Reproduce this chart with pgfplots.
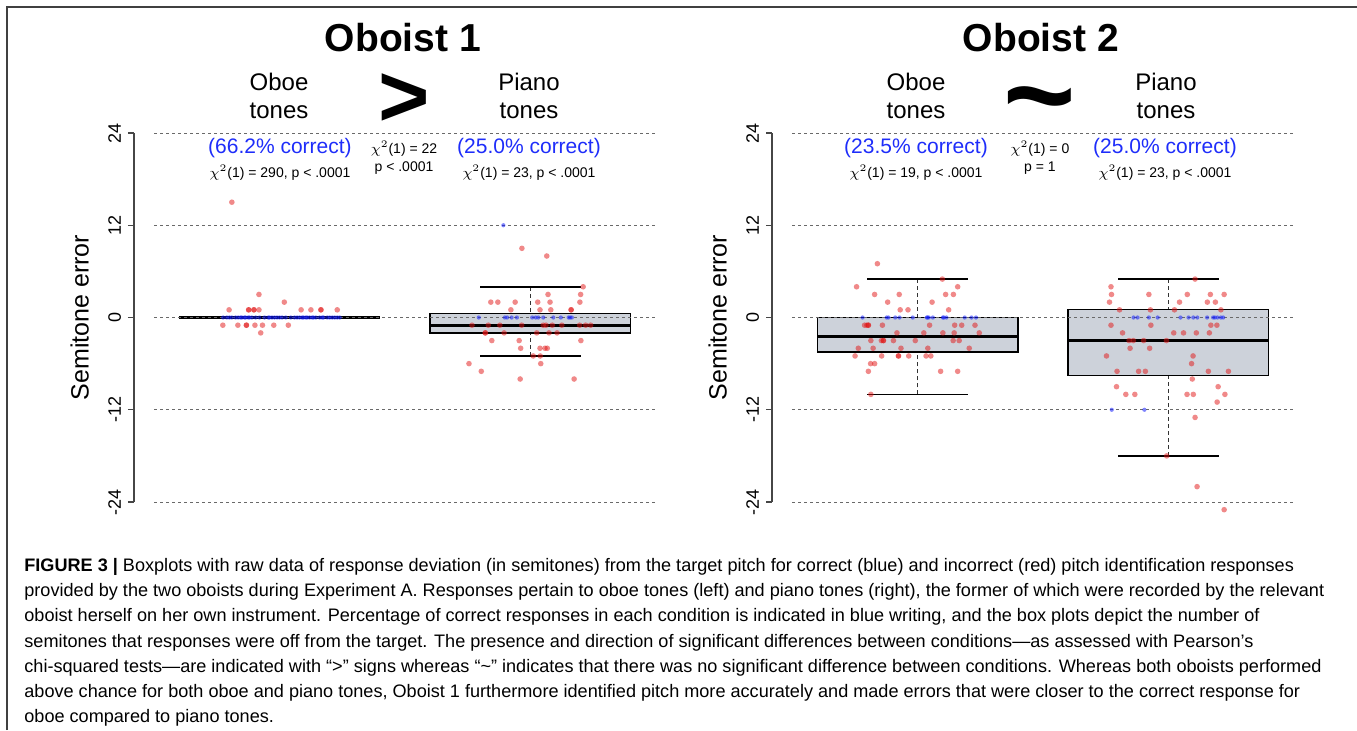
\documentclass[border=0pt]{standalone}
\usepackage{fontspec}
\setmainfont{Liberation Sans}
\usepackage{pgfplots}
\usepackage{pgfplotstable}
\pgfplotsset{compat=1.18}
\usepgfplotslibrary{statistics}

\definecolor{boxfill}{RGB}{205,210,218}
\definecolor{ptred}{RGB}{225,20,20}
\definecolor{ptblue}{RGB}{20,30,250}
\definecolor{txtblue}{RGB}{30,45,250}
\definecolor{gridgray}{RGB}{105,105,105}
\definecolor{axisgray}{RGB}{70,70,70}

\newcommand\fsz[2]{\fontsize{#1}{#2}\selectfont}

% ---- data: x = jittered position (1 = oboe tones, 2 = piano tones), y = semitone error
\pgfplotstableread{
x y
0.810 15
0.918 3
1.019 2
0.799 1
0.877 1
0.877 1
0.898 1
0.898 1
0.918 1
1.086 1
1.125 1
1.165 1
1.165 1
1.230 1
0.774 -1
0.834 -1
0.868 -1
0.868 -1
0.902 -1
0.932 -1
0.977 -1
1.035 -1
0.925 -2
1.966 9
2.065 8
2.210 4
2.070 3
2.200 3
1.842 2
1.870 2
1.939 2
2.029 2
2.078 2
2.197 2
1.922 1
2.038 1
2.081 1
2.162 1
2.162 1
1.767 -1
1.832 -1
1.878 -1
1.965 -1
2.051 -1
2.062 -1
2.087 -1
2.125 -1
2.196 -1
2.220 -1
2.240 -1
1.820 -2
1.820 -2
1.895 -2
2.025 -2
2.074 -2
2.106 -2
1.846 -3
1.955 -3
2.201 -3
1.961 -4
2.038 -4
2.058 -4
2.067 -4
2.011 -5
2.039 -5
1.755 -6
2.041 -6
1.804 -7
1.959 -8
2.174 -8
}\pOneRed

\pgfplotstableread{
x y
0.775 0
0.790 0
0.800 0
0.810 0
0.825 0
0.835 0
0.845 0
0.850 0
0.860 0
0.865 0
0.875 0
0.880 0
0.890 0
0.905 0
0.920 0
0.940 0
0.955 0
0.960 0
0.970 0
0.980 0
0.990 0
1.000 0
1.010 0
1.025 0
1.045 0
1.060 0
1.070 0
1.080 0
1.090 0
1.095 0
1.105 0
1.110 0
1.120 0
1.130 0
1.135 0
1.145 0
1.160 0
1.170 0
1.175 0
1.190 0
1.200 0
1.210 0
1.220 0
1.230 0
1.240 0
1.892 12
1.794 0
1.898 0
1.907 0
1.925 0
1.946 0
2.007 0
2.021 0
2.031 0
2.051 0
2.091 0
2.121 0
2.152 0
2.158 0
2.165 0
}\pOneBlue

\pgfplotstableread{
x y
0.840 7
1.099 5
0.757 4
1.160 4
0.829 3
0.927 3
1.112 3
1.143 3
0.881 2
1.058 2
0.931 1
0.962 1
1.124 1
0.789 -1
0.798 -1
0.804 -1
0.804 -1
0.860 -1
1.048 -1
1.148 -1
1.176 -1
1.229 -1
0.918 -2
1.025 -2
1.101 -2
1.146 -2
1.246 -2
0.814 -3
0.856 -3
0.864 -3
0.864 -3
0.904 -3
0.991 -3
1.142 -3
1.166 -3
0.764 -4
0.823 -4
0.934 -4
1.041 -4
1.206 -4
0.751 -5
0.857 -5
0.924 -5
0.924 -5
0.965 -5
1.034 -5
1.053 -5
0.813 -6
0.829 -6
0.804 -7
1.092 -7
1.160 -7
0.814 -10
2.106 5
1.771 4
1.773 3
1.922 3
2.075 3
2.167 3
2.222 3
1.765 2
2.044 2
2.155 2
2.187 2
1.805 1
1.928 1
2.024 1
2.209 1
1.771 -1
1.930 -1
2.169 -1
2.193 -1
1.817 -2
2.021 -2
2.060 -2
2.111 -2
2.163 -2
1.843 -3
1.860 -3
1.901 -3
1.992 -3
1.847 -4
1.925 -4
1.753 -5
2.098 -5
2.092 -6
1.795 -7
1.881 -7
1.908 -7
2.159 -7
2.239 -7
2.095 -8
1.793 -9
2.198 -9
1.830 -10
1.866 -10
2.074 -10
2.099 -10
2.225 -10
2.194 -11
2.106 -13
1.993 -18
2.114 -22
2.222 -25
}\pTwoRed

\pgfplotstableread{
x y
0.781 0
0.877 0
0.884 0
0.911 0
0.928 0
0.981 0
1.037 0
1.040 0
1.045 0
1.061 0
1.101 0
1.105 0
1.115 0
1.188 0
1.215 0
1.233 0
1.861 0
1.877 0
1.922 0
1.957 0
2.048 0
2.080 0
2.099 0
2.115 0
2.154 0
2.178 0
2.185 0
2.195 0
2.209 0
2.218 0
1.774 -12
1.904 -12
}\pTwoBlue

\tikzset{
  whstem/.style={draw=black!80, line width=0.75pt, dash pattern=on 2pt off 1.5pt},
  whcap/.style={draw=black, line width=0.75pt},
}

\pgfplotsset{
  boxplot/draw/lower whisker/.code={%
    \draw[whstem] (boxplot box cs:\pgfplotsboxplotvalue{lower whisker},0.5)
      -- (boxplot box cs:\pgfplotsboxplotvalue{lower quartile},0.5);
    \draw[whcap] (boxplot whisker cs:\pgfplotsboxplotvalue{lower whisker},0)
      -- (boxplot whisker cs:\pgfplotsboxplotvalue{lower whisker},1);
  },
  boxplot/draw/upper whisker/.code={%
    \draw[whstem] (boxplot box cs:\pgfplotsboxplotvalue{upper whisker},0.5)
      -- (boxplot box cs:\pgfplotsboxplotvalue{upper quartile},0.5);
    \draw[whcap] (boxplot whisker cs:\pgfplotsboxplotvalue{upper whisker},0)
      -- (boxplot whisker cs:\pgfplotsboxplotvalue{upper whisker},1);
  },
  panel/.style={
    anchor=south west, scale only axis,
    width=271pt, height=184.5pt,
    xmin=0.42, xmax=2.58, ymin=-24, ymax=24,
    clip=false,
    axis x line=none, axis y line*=left,
    y axis line style={-, draw=axisgray, line width=0.55pt},
    ytick={-24,-12,0,12,24}, yticklabels={-24,-12,0,12,24},
    tick align=outside, major tick length=3pt,
    ytick style={draw=axisgray, line width=0.55pt},
    yticklabel style={rotate=90, anchor=south, font=\fsz{9pt}{10pt}},
    ylabel={Semitone error},
    ylabel style={at={(axis description cs:-0.1,0.5)}, anchor=center, font=\fsz{12.5pt}{14pt}},
    boxplot/draw direction=y,
    boxplot/box extend=0.8,
    boxplot/whisker extend=0.4,
    boxplot/every box/.style={draw=black, fill=boxfill, line width=0.65pt},
    boxplot/every median/.style={draw=black, line width=1.5pt},
  },
  gridst/.style={draw=gridgray, line width=0.5pt, dash pattern=on 1.5pt off 1.5pt, mark=none},
  redpts/.style={only marks, mark=*, mark size=1.4pt, color=ptred,
    mark options={draw opacity=0, fill=ptred, fill opacity=0.5}},
  bluepts/.style={only marks, mark=*, mark size=1.05pt, color=ptblue,
    mark options={draw opacity=0, fill=ptblue, fill opacity=0.55}},
}

\begin{document}
\begin{tikzpicture}
\path[use as bounding box] (0pt,0pt) rectangle (678.5pt,-365pt);

% ---------------- Oboist 1
\begin{axis}[panel, at={(67pt,-251pt)}]
\addplot[boxplot prepared={draw position=1, lower whisker=0, lower quartile=0,
  median=0, upper quartile=0, upper whisker=0}] coordinates {};
\addplot[boxplot prepared={draw position=2, lower whisker=-5, lower quartile=-2,
  median=-1, upper quartile=0.5, upper whisker=4}] coordinates {};
\pgfplotsinvokeforeach{-24,-12,0,12,24}{\addplot[gridst] coordinates {(0.5,#1) (2.5,#1)};}
\addplot[redpts] table {\pOneRed};
\addplot[bluepts] table {\pOneBlue};
\end{axis}

% ---------------- Oboist 2
\begin{axis}[panel, at={(386pt,-251pt)}]
\addplot[boxplot prepared={draw position=1, lower whisker=-10, lower quartile=-4.5,
  median=-2.5, upper quartile=0, upper whisker=5}] coordinates {};
\addplot[boxplot prepared={draw position=2, lower whisker=-18, lower quartile=-7.5,
  median=-3, upper quartile=1, upper whisker=5}] coordinates {};
\pgfplotsinvokeforeach{-24,-12,0,12,24}{\addplot[gridst] coordinates {(0.5,#1) (2.5,#1)};}
\addplot[redpts] table {\pTwoRed};
\addplot[bluepts] table {\pTwoBlue};
\end{axis}

% ---------------- annotations (reference pixel grid)
\begin{scope}[x=0.5pt, y=-0.5pt, every node/.style={inner sep=0pt}]
\draw[black!75, line width=0.75pt] (7,730) -- (7,7) -- (1357,7);

\node[font=\fsz{19.5pt}{22pt}\bfseries] at (403,38) {Oboist 1};
\node[font=\fsz{19.5pt}{22pt}\bfseries] at (1041,38) {Oboist 2};

\begin{scope}[every node/.style={inner sep=0pt, align=center, font=\fsz{12pt}{14pt}}]
\node at (279,96) {Oboe\\tones};
\node at (529,96) {Piano\\tones};
\node at (916,96) {Oboe\\tones};
\node at (1166,96) {Piano\\tones};
\end{scope}

\node[font=\fsz{44pt}{46pt}\bfseries] at (404,100) {>};
\node[font=\fsz{62pt}{64pt}\bfseries] at (1040,112) {\textasciitilde};

\begin{scope}[every node/.style={inner sep=0pt, text=txtblue, font=\fsz{10.5pt}{12pt}}]
\node at (280,148) {(66.2\% correct)};
\node at (529,148) {(25.0\% correct)};
\node at (916,148) {(23.5\% correct)};
\node at (1165,148) {(25.0\% correct)};
\end{scope}

\begin{scope}[every node/.style={inner sep=0pt, font=\fsz{7pt}{8pt}}]
\node at (280,173) {$\chi^2$(1) = 290, p < .0001};
\node at (529,173) {$\chi^2$(1) = 23, p < .0001};
\node at (916,173) {$\chi^2$(1) = 19, p < .0001};
\node at (1165,173) {$\chi^2$(1) = 23, p < .0001};
\node at (404,149) {$\chi^2$(1) = 22};
\node at (404,168) {p < .0001};
\node at (1040,149) {$\chi^2$(1) = 0};
\node at (1040,168) {p = 1};
\end{scope}

% caption
\begin{scope}[every node/.style={anchor=base west, inner sep=0pt, font=\fsz{9.05pt}{12pt}}]
\node at (24,571) {\textbf{FIGURE 3 |} Boxplots with raw data of response deviation (in semitones) from the target pitch for correct (blue) and incorrect (red) pitch identification responses};
\node at (24,596) {provided by the two oboists during Experiment A. Responses pertain to oboe tones (left) and piano tones (right), the former of which were recorded by the relevant};
\node at (24,621) {oboist herself on her own instrument. Percentage of correct responses in each condition is indicated in blue writing, and the box plots depict the number of};
\node at (24,647) {semitones that responses were off from the target. The presence and direction of significant differences between conditions—as assessed with Pearson’s};
\node at (24,672) {chi-squared tests—are indicated with “>” signs whereas “\textasciitilde” indicates that there was no significant difference between conditions. Whereas both oboists performed};
\node at (24,697) {above chance for both oboe and piano tones, Oboist 1 furthermore identified pitch more accurately and made errors that were closer to the correct response for};
\node at (24,722) {oboe compared to piano tones.};
\end{scope}
\end{scope}
\end{tikzpicture}
\end{document}
